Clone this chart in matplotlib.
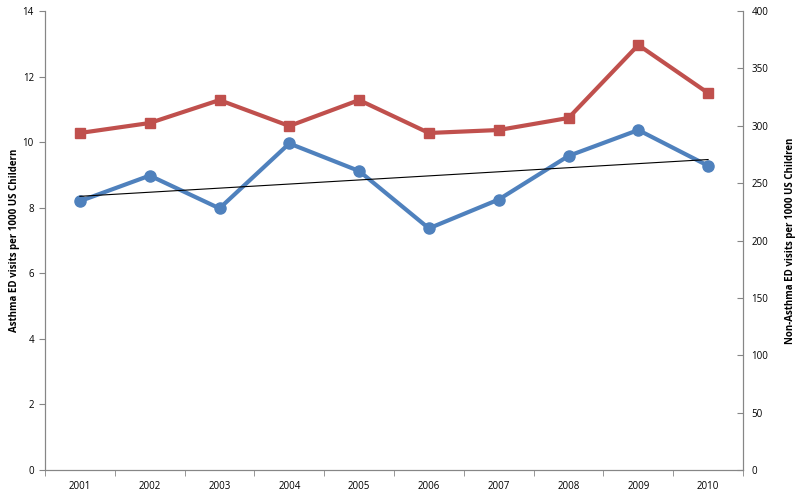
import numpy as np
import matplotlib.pyplot as plt

years = ["2001", "2002", "2003", "2004", "2005", "2006", "2007", "2008", "2009", "2010"]
asthma = [8.20, 8.98, 7.98, 9.96, 9.12, 7.37, 8.25, 9.58, 10.37, 9.28]
non_asthma = [293.7, 302.4, 322.4, 299.8, 322.4, 293.7, 296.3, 306.8, 370.4, 328.5]

BLUE = "#4F81BD"
RED = "#C0504D"
GRAY = "#868686"

plt.rcParams["font.family"] = ["Open Sans", "DejaVu Sans"]

fig = plt.figure(figsize=(8, 4.96), dpi=100)
ax = fig.add_axes([0.05625, 0.0524, 0.8725, 0.9254])
ax2 = ax.twinx()

x = np.arange(1, len(years) + 1)

# non-asthma on the right axis, drawn behind
ax2.plot(x, non_asthma, color=RED, lw=3, marker="s", ms=7.5, zorder=2)
ax2.set_ylim(0, 400)
ax2.set_yticks(range(0, 401, 50))

# asthma on the left axis, with linear trend
ax.set_zorder(ax2.get_zorder() + 1)
ax.patch.set_visible(False)
ax.plot(x, asthma, color=BLUE, lw=3, marker="o", ms=8, zorder=3)
coef = np.polyfit(x, asthma, 1)
ax.plot(x, np.polyval(coef, x), color="black", lw=0.8, zorder=4)
ax.set_ylim(0, 14)
ax.set_yticks(range(0, 15, 2))

ax.set_xlim(0.5, len(years) + 0.5)
ax.set_xticks(x)
ax.set_xticklabels(years)
ax.set_xticks(np.arange(0.5, len(years) + 1), minor=True)
ax.tick_params(axis="x", which="major", length=0, pad=8)
ax.tick_params(axis="x", which="minor", length=4, color=GRAY, direction="out")
ax.tick_params(axis="y", length=4, color=GRAY, direction="out", pad=4)
ax2.tick_params(axis="y", length=4, color=GRAY, direction="in", pad=6)

for a in (ax, ax2):
    a.tick_params(labelsize=7)
    a.spines["top"].set_visible(False)
    for s in ("left", "right", "bottom"):
        a.spines[s].set_color(GRAY)
        a.spines[s].set_linewidth(0.8)

ax.set_ylabel("Asthma ED visits per 1000 US Childern", fontsize=7, fontweight="bold", labelpad=2)
ax2.set_ylabel("Non-Asthma ED visits per 1000 US Children", fontsize=7, fontweight="bold", labelpad=12)

fig.savefig("out.png", dpi=100)
